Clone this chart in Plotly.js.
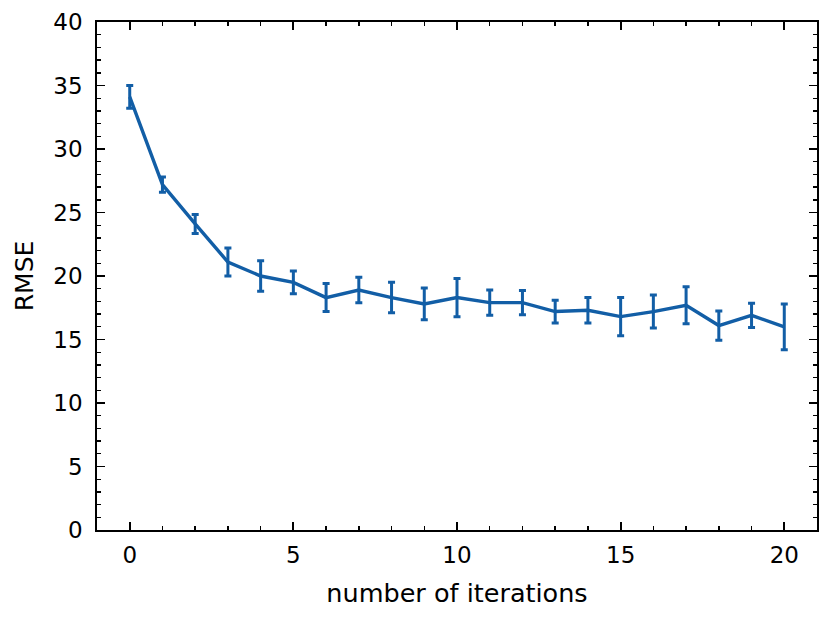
<!DOCTYPE html>
<html>
<head>
<meta charset="utf-8">
<script src="https://cdn.plot.ly/plotly-3.0.1.min.js"></script>
<style>
  body { margin: 0; background: #fff; }
  #mainPlot { width: 831px; height: 620px; }
</style>
</head>
<body>
<div id="mainPlot"></div>
<script>
const MAINPLOT = document.getElementById('mainPlot');

// RMSE vs. number of iterations
const iterations = [0, 1, 2, 3, 4, 5, 6, 7, 8, 9, 10, 11, 12, 13, 14, 15, 16, 17, 18, 19, 20];
const rmse = [34.1, 27.2, 24.1, 21.1, 20.0, 19.5, 18.3, 18.9, 18.3, 17.8, 18.3, 17.9, 17.9, 17.2, 17.3, 16.8, 17.2, 17.7, 16.1, 16.9, 16.0];
const rmseErr = [0.9, 0.6, 0.75, 1.1, 1.2, 0.9, 1.1, 1.0, 1.2, 1.25, 1.5, 1.0, 0.95, 0.9, 1.0, 1.5, 1.3, 1.45, 1.15, 0.95, 1.8];

const xTicks = [0, 5, 10, 15, 20];
const yTicks = [0, 5, 10, 15, 20, 25, 30, 35, 40];

const blue = '#125ea6';
const font = 'DejaVu Sans, sans-serif';

var trace = {
    x: iterations,
    y: rmse,
    type: 'scatter',
    mode: 'lines',
    line: { color: blue, width: 3.4 },
    error_y: {
        type: 'data',
        array: rmseErr,
        visible: true,
        color: blue,
        thickness: 3,
        width: 3.5
    },
    showlegend: false
};

var axisStyle = {
    showgrid: false,
    zeroline: false,
    showline: true,
    linecolor: '#000',
    linewidth: 1.8,
    mirror: 'allticks',
    ticks: 'inside',
    ticklen: 8,
    tickwidth: 1.8,
    tickcolor: '#000',
    tickfont: { family: font, size: 23, color: '#000' }
};

var layout = {
    width: 831,
    height: 620,
    margin: { l: 97, r: 14, t: 22, b: 90 },
    paper_bgcolor: '#fff',
    plot_bgcolor: '#fff',
    xaxis: Object.assign({}, axisStyle, {
        range: [-1, 21],
        tickvals: xTicks,
        ticktext: xTicks.map(String),
        ticklabelstandoff: 4,
        minor: { dtick: 1, ticks: 'inside', ticklen: 4, tickwidth: 1.4, tickcolor: '#000' },
        title: { text: 'number of iterations', font: { family: font, size: 25.5, color: '#000' }, standoff: 17 }
    }),
    yaxis: Object.assign({}, axisStyle, {
        range: [0, 40],
        tickvals: yTicks,
        ticktext: yTicks.map(String),
        ticklabelstandoff: 8,
        minor: { dtick: 1, ticks: 'inside', ticklen: 4, tickwidth: 1.4, tickcolor: '#000' },
        title: { text: 'RMSE', font: { family: font, size: 25, color: '#000' }, standoff: 12 }
    })
};

Plotly.newPlot(MAINPLOT, [trace], layout, { staticPlot: true });
</script>
</body>
</html>
